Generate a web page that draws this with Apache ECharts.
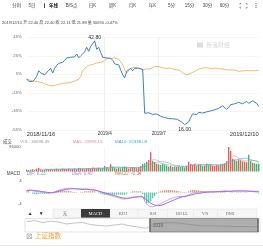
<!DOCTYPE html>
<html><head><meta charset="utf-8">
<script src="https://cdn.jsdelivr.net/npm/echarts@6/dist/echarts.min.js"></script>
<style>html,body{margin:0;padding:0;background:#fff;overflow:hidden}#c{width:263px;height:248px}</style>
</head><body><div id="c"></div>
<script>
// ---- data ----
const stockPct = [0,-2.6,-4.2,-2.8,-0.4,2.8,8.8,6.6,8.2,4.4,
3.9,9.3,11.5,6.4,11.5,14.7,16.9,15.8,17.9,20.1,
22.6,24.1,23.4,25.5,23.9,26.9,22.8,25,27.1,29.3,
34.2,29.8,35.2,36.3,41.2,32,34.2,28.8,23.4,21.7,
22.6,20.9,22.3,20.1,16.3,16.5,15.2,9.8,4.4,1.2,
8.2,9.3,11.5,8.8,11.5,10.4,11.5,12.8,10.4,-37.2,
-37.7,-36.6,-35,-38.3,-38.3,-37.9,-39.9,-40.4,-41.5,-41.8,
-42.6,-42.9,-42.6,-43.1,-44,-43.6,-44.2,-45.8,-47.5,-49.4,
-48,-46.4,-41.5,-37.7,-37.2,-38.6,-36.1,-36.3,-36.9,-35.2,
-35.6,-35.8,-34.5,-34.2,-33.4,-32.3,-31.8,-32.3,-29.1,-28,
-32.9,-30.7,-27.8,-26.4,-26.9,-27.8,-25.3,-24.5,-26.9,-25.6,
-24.2,-26.4,-27.5,-23.7,-24.8,-26.4,-29.6];
const indexPct = [0,-1,-1.7,-2,-2.6,-2.6,-3.1,-3.5,-4.2,-5.1,
-6.2,-6.9,-7.5,-8,-7.2,-6.2,-5.8,-5.3,-4.8,-4.8,
-4.4,-4,-3.7,-2.9,-2.3,-1.8,-0.4,2.8,8.8,11.5,
13.6,14.7,15.5,15.5,16.3,17.2,17.2,18.3,17.4,19.6,
21.9,21.7,21.9,23,22.8,22.6,21.2,19.6,15.5,10.1,
6.4,8.8,11.5,12.2,12.5,12.2,11.8,10.4,9.8,8.2,
10.9,9.8,10.9,12.2,13.6,13.1,13.4,12.5,11.8,11.2,
11.5,11.7,11.8,10.4,10.1,10.1,9.8,8.2,6.6,5.3,
4.4,3.9,6.1,7.1,8.2,9.3,10.7,11.1,11.8,12.5,
12.2,11.8,11.1,11.5,11.7,11.8,10.9,10.1,10.9,11.1,
9.8,9,9.6,10.1,9.6,8.8,8.2,8.2,8.8,9,
9,8.5,8.8,9,8.8,9.3,9];
const volume = [8000,6000,7000,9000,6000,11000,14000,8000,7000,6000,
9000,8000,10000,7000,9000,11000,8000,9000,12000,10000,
9000,11000,8000,10000,12000,9000,14000,11000,10000,9000,
12000,14000,11000,16000,13000,12000,15000,11000,
14000,22000,16000,13000,28000,18000,15000,12000,14000,13000,
18000,20000,16000,12000,14000,18000,15000,13000,16000,22000,30000,
32000,38000,45000,75000,42000,36000,30000,28000,26000,30000,28000,24000,
20000,22000,18000,20000,19000,22000,18000,20000,17000,22000,38000,30000,
26000,30000,24000,28000,26000,22000,24000,30000,26000,28000,24000,22000,26000,
24000,28000,30000,32000,40000,96000,80000,50000,46000,42000,48000,44000,40000,38000,36000,66000,42000,34000,32000,30000,30690];
const dif = [0.8,0.9,0.8,0.6,0.4,0.3,0.3,0.2,0.1,0.0,-0.1,
-0.2,-0.2,-0.1,0.2,0.5,0.8,1.0,1.2,1.3,1.4,
1.5,1.5,1.4,1.4,1.3,1.2,1.2,1.2,1.3,1.3,
1.2,1.1,1.1,1.0,0.7,0.4,0.1,-0.2,-0.5,-0.7,
-0.9,-1.1,-1.3,-1.5,-1.7,-1.9,-2.1,-2.3,-2.4,-2.2,
-2.0,-1.8,-1.6,-1.5,-1.4,-1.3,-1.3,-1.3,
-3.0,-4.0,-4.7,-5.0,-5.0,-4.8,-4.5,-4.2,-3.9,-3.5,-3.1,-2.8,
-2.5,-2.2,-1.9,-1.7,-1.5,-1.4,-1.4,-1.4,-1.5,-1.3,-0.9,-0.5,
-0.2,0.0,0.1,0.2,0.2,0.3,0.3,0.3,0.3,0.3,0.3,0.4,0.4,
0.4,0.4,0.5,0.6,0.4,0.4,0.5,0.6,0.5,0.6,0.6,0.6,0.5,0.6,0.6,0.5,0.4,0.4,0.3,0.3,0.23];
const dea = [0.6,0.7,0.8,0.8,0.7,0.6,0.5,0.4,0.3,0.2,0.1,
0.0,-0.1,-0.1,0.0,0.2,0.4,0.6,0.8,1.0,1.1,
1.2,1.3,1.3,1.3,1.2,1.2,1.1,1.1,1.1,1.1,
1.0,0.9,0.9,0.8,0.7,0.5,0.3,0.1,-0.1,-0.3,
-0.5,-0.7,-0.9,-1.1,-1.3,-1.5,-1.7,-1.9,-2.0,-2.0,
-2.0,-1.9,-1.8,-1.7,-1.6,-1.5,-1.5,-1.5,
-2.0,-2.6,-3.2,-3.7,-4.1,-4.4,-4.6,-4.6,-4.5,-4.3,-4.0,-3.7,
-3.4,-3.1,-2.8,-2.5,-2.2,-1.9,-1.7,-1.5,-1.3,-1.2,-1.1,-0.9,
-0.7,-0.5,-0.4,-0.3,-0.2,-0.1,0.0,0.1,0.1,0.2,0.2,0.2,0.3,
0.3,0.3,0.3,0.4,0.4,0.4,0.4,0.5,0.5,0.5,0.5,0.5,0.5,0.5,0.5,0.5,0.4,0.4,0.4,0.4,0.4];
const macdHist = [0.4,0.4,0,-0.4,-0.6,-0.6,-0.4,-0.4,-0.4,-0.4,-0.4,
-0.4,-0.2,0,0.4,0.6,0.8,0.8,0.8,0.6,0.6,
0.6,0.4,0.2,0.2,0.2,0,0.2,0.2,0.4,0.4,
0.4,0.4,0.4,0.4,0,-0.2,-0.4,-0.6,-0.8,-0.8,
-0.8,-0.8,-0.8,-0.8,-0.8,-0.8,-0.8,-0.8,-0.8,-0.4,
0,0.2,0.4,0.4,0.4,0.4,0.4,-0.5,
-2.5,-3.7,-3.6,-3,-2,-1.2,-0.4,0.3,0.4,0.6,0.8,0.9,
0.9,0.9,0.8,0.7,0.6,0.4,0.3,0.2,-0.3,-0.1,0.4,0.8,
0.9,0.9,0.8,0.7,0.6,0.5,0.4,0.3,0.3,0.2,0.2,0.3,0.2,
0.2,0.2,0.3,0.3,0,0,0.2,0.2,0,0.2,0.2,0.2,0,0.2,0.2,0,0,0,-0.2,-0.2,-0.34];
const navLine = [10.3,11.5,9.3,10.8,10,8,9,9.5,7.5,6.5,6,7,8,6,5,3.7,8,9,9.3,9,8,7,6,6.2,6,5.8,5.5,5.5,5.2,5.5];
const eventDots = [[62,45.7]];
const extremeLabels = ['42.80','16.00'];
const yTicksMain = {min:-55, max:45, step:20};
const xTickLabels = ['2018/11/16','2019/4','2019/7','2019/12/10'];
const xTickIndex = [0,39,66,116];
const tabs = ['分时','5日','年线','B/S点','日K','周K','月K','年K','5分','15分','30分','60分'];
const quoteLine = [['2019/12/10','d'],['开','l'],['22.40','v'],['高','l'],['22.40','v'],['收','l'],['22.11','v'],['低','l'],['21.88','v'],['量','l'],['30690','d'],['-0.47%','v']];
const volLabels = [['成交','#444'],['VOL: 30698.45','#999'],['MA5: 23999.15','#e98aa6'],['MA10: 22338.09','#2fb3c6']];
const macdLabels = [['MACD','#444'],['DIF: 0.23','#6f93d8'],['DEA: 0.40','#cf78d6'],['MACD: -0.34','#d26a5a']];
const indicatorTabs = ['无','MACD','KDJ','RSI','BOLL','VR','DMI'];
const indexName = '上证指数';
const navYear = '2019';

// ---- chart ----
const FF = '"Liberation Sans","Noto Sans CJK SC",sans-serif';
const cats = stockPct.map((_, i) => i);
const navCats = navLine.map((_, i) => i);
const RED = '#e5574a', GREEN = '#3dae6b';
function ma(arr, n){ return arr.map((_, i) => { if (i < n-1) return null; let s=0; for(let k=i-n+1;k<=i;k++) s+=arr[k]; return s/n; }); }
const volMA5 = ma(volume,5), volMA10 = ma(volume,10);
const splitIdx = [xTickIndex[1], xTickIndex[2]];

function T(text, x, y, size, fill, opts){
  opts = opts || {};
  return {type:'text', z:100, style:{text, x, y, fill, fontSize:size, fontFamily:opts.family||FF, fontWeight:opts.weight||'normal', align:opts.align||'left', verticalAlign:'middle'}};
}
const G = [];
// top tabs
const tabX = [16.7,32,53.5,71.7,92.5,112.5,132.5,152.5,171.5,189.5,207.5,224.5];
tabs.forEach((t,i)=>G.push(T(t, tabX[i], 5.5, 4.5, i===2?'#111':'#444', {align:'center', weight:i===2?'bold':'normal'})));
G.push({type:'rect', z:100, shape:{x:44,y:3.3,width:0.9,height:4.6}, style:{fill:'#333'}});
// fullscreen icon
[[240,3.5,1,1],[247,3.5,-1,1],[240,8,1,-1],[247,8,-1,-1]].forEach(c=>G.push({type:'polyline', z:100, shape:{points:[[c[0],c[1]+1.3*c[3]],[c[0],c[1]],[c[0]+1.3*c[2],c[1]]]}, style:{stroke:'#666', lineWidth:0.7, fill:null}}));
[3.6,5.6,7.6].forEach(y=>G.push({type:'circle', z:100, shape:{cx:256,cy:y,r:0.6}, style:{fill:'#555'}}));
// quote line
const rich = {d:{color:'#444',fontSize:4,fontFamily:FF}, l:{color:'#444',fontSize:4,fontFamily:FF}, v:{color:'#1f9a3c',fontSize:4,fontFamily:FF}};
G.push({type:'text', z:100, style:{text: quoteLine.map(p=>'{'+p[1]+'|'+p[0]+'}').join(' '), x:2, y:23.3, rich, fontSize:4, fontFamily:FF, fill:'#444', verticalAlign:'middle'}});
// volume label row
const volX = [3,20,72.7,115];
volLabels.forEach((p,i)=>G.push(T(p[0], volX[i], 142, 4.4, p[1])));
// macd label row
const macdX = [6.7,26.7,71.7,115];
macdLabels.forEach((p,i)=>G.push(T(p[0], macdX[i], 174, 4.6, p[1])));
// watermark
G.push(T('新浪财经', 206, 45, 6, '#d6d6d6'));
G.push({type:'rect', z:100, shape:{x:197,y:42.5,width:6,height:5}, style:{fill:'#dcdcdc'}});
// bottom indicator tabs
G.push(T('▲', 30, 213.3, 4.8, '#222', {align:'center'}));
G.push(T('▼', 41, 213.3, 4.8, '#222', {align:'center'}));
G.push({type:'rect', z:99, shape:{x:53,y:209,width:204,height:8.6}, style:{fill:'#f6f6f6', stroke:'#dcdcdc', lineWidth:0.5}});
const tabBounds = [53,81,110,138,167.5,193.5,217.5,257];
const tabCx = [65,95.5,123,153,182,205,230];
for (let k=1;k<tabBounds.length-1;k++) G.push({type:'line', z:100, shape:{x1:tabBounds[k],y1:209,x2:tabBounds[k],y2:217.6}, style:{stroke:'#e2e2e2', lineWidth:0.5}});
G.push({type:'rect', z:100, shape:{x:81,y:209,width:29,height:8.6}, style:{fill:'#3a3a3a'}});
indicatorTabs.forEach((t,i)=>G.push(T(t, tabCx[i], 213.3, 4.6, i===1?'#fff':'#777', {align:'center', family:'"Liberation Serif","Noto Sans CJK SC",serif'})));
// navigator frame & window
G.push({type:'rect', z:98, shape:{x:25,y:218.5,width:235,height:13.5}, style:{fill:null, stroke:'#d0d0d0', lineWidth:0.6}});
G.push({type:'rect', z:101, shape:{x:150,y:218.5,width:108,height:13.5}, style:{fill:'rgba(120,120,120,0.6)', stroke:'#777', lineWidth:0.6}});
G.push({type:'rect', z:102, shape:{x:149.3,y:218.5,width:1.4,height:13.5}, style:{fill:'#666'}});
G.push({type:'rect', z:102, shape:{x:257.3,y:218.5,width:1.4,height:13.5}, style:{fill:'#666'}});
G.push(T(navYear, 153, 225.5, 4.5, '#333'));
// index legend checkbox
G.push({type:'rect', z:100, shape:{x:27,y:234,width:4.5,height:4.5}, style:{fill:null, stroke:'#999', lineWidth:0.6}});
G.push({type:'line', z:100, shape:{x1:27,y1:234,x2:31.5,y2:238.5}, style:{stroke:'#999', lineWidth:0.6}});
G.push({type:'line', z:100, shape:{x1:31.5,y1:234,x2:27,y2:238.5}, style:{stroke:'#999', lineWidth:0.6}});
G.push(T(indexName, 35, 236.5, 6.5, '#f0a030'));
G.push({type:'line', z:100, shape:{x1:0,y1:245.5,x2:263,y2:245.5}, style:{stroke:'#e0e0e0', lineWidth:0.8}});

const hiddenX = (gi, data) => ({gridIndex:gi, type:'category', data, boundaryGap:false, axisLine:{show:false}, axisTick:{show:false}, axisLabel:{show:false},
  splitLine:{show: gi<3, interval:(i)=>splitIdx.indexOf(i)>=0, lineStyle:{color:'#ececec', width:0.6}}});

const option = {
  animation:false,
  textStyle:{fontFamily:FF},
  grid:[
    {left:26.7, width:232, top:37.3, height:92.5},
    {left:26.7, width:232, top:147, height:24.5},
    {left:26.7, width:232, top:181, height:23},
    {left:26.7, width:231, top:219, height:13}
  ],
  xAxis:[
    {gridIndex:0, type:'category', data:cats, boundaryGap:false, axisLine:{show:false}, axisTick:{show:false},
     axisLabel:{show:true, interval:(i)=>xTickIndex.indexOf(i)>=0, margin:1.5, alignMinLabel:'left', alignMaxLabel:'right',
       formatter:(v,i)=>{const k=xTickIndex.indexOf(i); if(k<0) return ''; return (k===0||k===xTickIndex.length-1)?'{b|'+xTickLabels[k]+'}':'{m|'+xTickLabels[k]+'}';},
       rich:{b:{fontSize:5.8,color:'#333',fontFamily:FF}, m:{fontSize:4.6,color:'#333',fontFamily:FF}}},
     splitLine:{show:true, interval:(i)=>splitIdx.indexOf(i)>=0, lineStyle:{color:'#e6e6e6', width:0.7}}},
    hiddenX(1, cats), hiddenX(2, cats), hiddenX(3, navCats)
  ],
  yAxis:[
    {gridIndex:0, type:'value', min:yTicksMain.min, max:yTicksMain.max, interval:yTicksMain.step, axisLine:{show:false}, axisTick:{show:false},
     axisLabel:{formatter:(v)=>v+'%', fontSize:4.2, color:'#666', margin:5}, splitLine:{lineStyle:{color:'#f0f0f0', width:0.6}}},
    {gridIndex:1, type:'value', min:0, max:96000, interval:96000, axisLine:{show:false}, axisTick:{show:false},
     axisLabel:{formatter:(v)=>v===96000?'96000':'', fontSize:4.2, color:'#666', margin:6}, splitLine:{show:false}},
    {gridIndex:2, type:'value', min:-4, max:4, interval:4, axisLine:{show:false}, axisTick:{show:false},
     axisLabel:{formatter:(v)=>v===0?'':String(v), fontSize:4.4, color:'#555', margin:5}, splitLine:{show:false}},
    {gridIndex:3, type:'value', min:0, max:13, show:false}
  ],
  series:[
    {type:'line', xAxisIndex:0, yAxisIndex:0, data:indexPct, symbol:'none', lineStyle:{color:'#f0a64a', width:0.8}, z:3},
    {type:'line', xAxisIndex:0, yAxisIndex:0, data:stockPct, symbol:'none', lineStyle:{color:'#3b80c2', width:1}, z:4,
     markPoint:{symbol:'circle', symbolSize:0.1, itemStyle:{color:'transparent'},
       data:[{type:'max', label:{formatter:extremeLabels[0], position:'top', distance:0.5, fontSize:5.2, color:'#333'}},
             {type:'min', label:{formatter:extremeLabels[1], position:'bottom', distance:2, fontSize:5.2, color:'#333'}}]}},
    {type:'scatter', xAxisIndex:0, yAxisIndex:0, data:eventDots, symbolSize:4, itemStyle:{color:'#3b80c2'}, z:5},
    {type:'bar', xAxisIndex:1, yAxisIndex:1, data:volume, barWidth:1.3,
     itemStyle:{color:(p)=>{const i=p.dataIndex; return (i===0||stockPct[i]>=stockPct[i-1])?RED:GREEN;}}},
    {type:'line', xAxisIndex:1, yAxisIndex:1, data:volMA5, symbol:'none', lineStyle:{color:'#ea8fab', width:0.6}},
    {type:'line', xAxisIndex:1, yAxisIndex:1, data:volMA10, symbol:'none', lineStyle:{color:'#3bb5c8', width:0.6}},
    {type:'bar', xAxisIndex:2, yAxisIndex:2, data:macdHist, barWidth:1.3,
     itemStyle:{color:(p)=>p.value>=0?'rgba(205,130,100,0.85)':'rgba(60,190,160,0.85)'}},
    {type:'line', xAxisIndex:2, yAxisIndex:2, data:dif, symbol:'none', clip:false, lineStyle:{color:'#9aa6ea', width:0.8}},
    {type:'line', xAxisIndex:2, yAxisIndex:2, data:dea, symbol:'none', clip:false, lineStyle:{color:'#b861d6', width:1}},
    {type:'line', xAxisIndex:3, yAxisIndex:3, data:navLine, symbol:'none', lineStyle:{color:'#999', width:0.6}}
  ],
  graphic:G
};
const chart = echarts.init(document.getElementById('c'));
chart.setOption(option);
</script>
</body></html>
